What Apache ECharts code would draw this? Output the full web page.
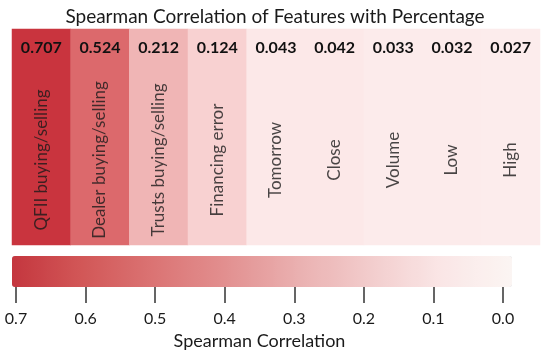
<!DOCTYPE html>
<html>
<head>
<meta charset="utf-8">
<script src="https://cdn.jsdelivr.net/npm/echarts@6/dist/echarts.min.js"></script>
<style>html,body{margin:0;padding:0;background:#fff}#c{width:550px;height:361px}</style>
</head>
<body>
<div id="c"></div>
<script>
var features = ['QFII buying/selling','Dealer buying/selling','Trusts buying/selling','Financing error','Tomorrow','Close','Volume','Low','High'];
var values = [0.707,0.524,0.212,0.124,0.043,0.042,0.033,0.032,0.027];
var rowNames = ['Percentage'];

var FONT = 'Lato';
var heatData = values.map(function(v,i){return [i,0,v];});
var nameData = values.map(function(v,i){return [i,0];});

var chart = echarts.init(document.getElementById('c'));
chart.setOption({
  animation:false,
  textStyle:{fontFamily:FONT},
  title:{text:'Spearman Correlation of Features with Percentage',left:'center',top:2,
    textStyle:{fontFamily:FONT,fontSize:19,fontWeight:'normal',color:'#1a1a1a'}},
  grid:[
    {left:12,right:10,top:29,bottom:116},
    {left:16,width:487,top:256,height:31}
  ],
  xAxis:[
    {type:'category',data:features,gridIndex:0,show:false},
    {type:'value',gridIndex:1,min:0,max:0.7,interval:0.1,inverse:true,
      axisLine:{show:false},splitLine:{show:false},
      axisTick:{show:true,length:16,lineStyle:{color:'#333',width:1.5}},
      axisLabel:{margin:24,fontSize:16,color:'#1a1a1a',fontFamily:FONT,
        formatter:function(v){return v.toFixed(1);}},
      name:'Spearman Correlation',nameLocation:'middle',nameGap:45,
      nameTextStyle:{fontSize:18,color:'#1a1a1a',fontFamily:FONT}}
  ],
  yAxis:[
    {type:'category',data:rowNames,gridIndex:0,show:false},
    {type:'value',gridIndex:1,show:false}
  ],
  visualMap:[
    {type:'continuous',show:false,seriesIndex:0,dimension:2,min:0,max:0.707,
      inRange:{color:['#fdf3f3','#fad9d9','#f0b7b7','#eba3a3','#e58e8f','#de6e71','#d45358','#c9343e']}},
    {type:'continuous',show:true,seriesIndex:1,min:0,max:0.707,orient:'horizontal',inverse:true,
      left:12,top:256,itemWidth:31,itemHeight:500,padding:0,calculable:false,showLabel:false,text:null,
      inRange:{color:['#fbf5f3','#fae6e6','#f2cccc','#eab0b0','#e29090','#db7474','#d25858','#c4363e']}}
  ],
  series:[
    {type:'heatmap',xAxisIndex:0,yAxisIndex:0,data:heatData,
      label:{show:true,position:'insideTop',distance:11,fontSize:16,fontWeight:'bold',color:'#111',fontFamily:FONT,
        formatter:function(p){return p.value[2].toFixed(3);}},
      itemStyle:{borderWidth:0}},
    {type:'scatter',xAxisIndex:0,yAxisIndex:0,data:nameData,symbolSize:0,silent:true,
      label:{show:true,position:'inside',rotate:90,offset:[-23,0],fontSize:17,color:'#1a1a1a',fontFamily:FONT,
        formatter:function(p){return features[p.dataIndex];}}}
  ]
});
</script>
</body>
</html>
